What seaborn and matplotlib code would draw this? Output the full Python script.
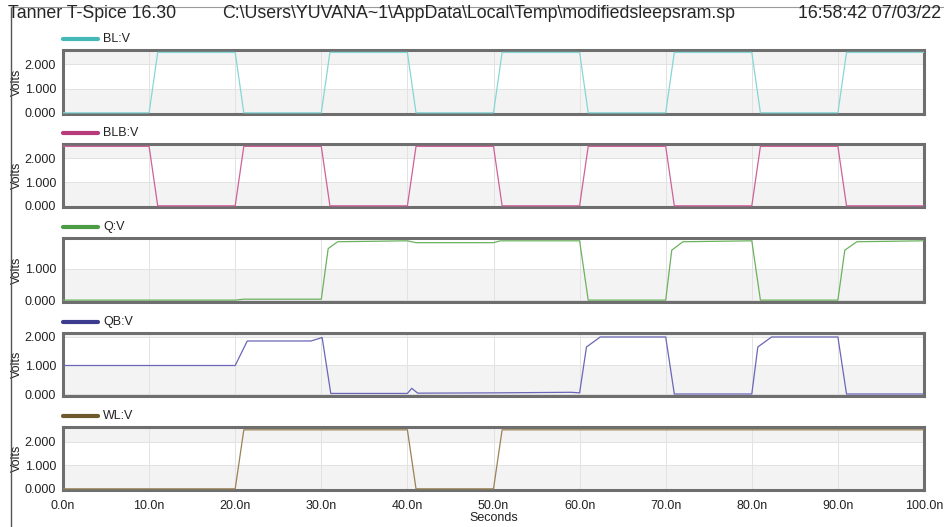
import matplotlib
matplotlib.use('Agg')
import matplotlib.pyplot as plt
from matplotlib.lines import Line2D
from matplotlib.ticker import MultipleLocator, FuncFormatter
import seaborn as sns

t_bl = [0, 10, 11, 20, 21, 30, 31, 40, 41, 50, 51, 60, 61, 70, 71, 80, 81, 90, 91, 100]
v_bl = [0, 0, 2.5, 2.5, 0, 0, 2.5, 2.5, 0, 0, 2.5, 2.5, 0, 0, 2.5, 2.5, 0, 0, 2.5, 2.5]

t_blb = [0, 10, 11, 20, 21, 30, 31, 40, 41, 50, 51, 60, 61, 70, 71, 80, 81, 90, 91, 100]
v_blb = [2.5, 2.5, 0, 0, 2.5, 2.5, 0, 0, 2.5, 2.5, 0, 0, 2.5, 2.5, 0, 0, 2.5, 2.5, 0, 0]

t_q = [0, 20, 21, 30, 30.8, 31.9, 40, 41, 50, 50.8, 60, 61, 70, 70.7, 72, 80, 81, 90, 90.8, 92.2, 100]
v_q = [0, 0, 0.03, 0.03, 1.65, 1.87, 1.9, 1.84, 1.84, 1.9, 1.9, 0, 0, 1.6, 1.87, 1.9, 0, 0, 1.6, 1.87, 1.9]

t_qb = [0, 20, 21.4, 28.8, 30.1, 31.1, 40, 40.5, 41.2, 50, 59, 60, 60.8, 62.4, 70, 71, 80, 80.7, 82.3, 90, 91, 100]
v_qb = [1.0, 1.0, 1.86, 1.86, 1.98, 0.02, 0.02, 0.2, 0.03, 0.04, 0.06, 0.04, 1.65, 2.0, 2.0, 0.0, 0.0, 1.65, 2.0, 2.0, 0.0, 0.0]

t_wl = [0, 20, 21, 40, 41, 50, 51, 100]
v_wl = [0, 0, 2.5, 2.5, 0, 0, 2.5, 2.5]

names = ['BL:V', 'BLB:V', 'Q:V', 'QB:V', 'WL:V']
series = [(t_bl, v_bl), (t_blb, v_blb), (t_q, v_q), (t_qb, v_qb), (t_wl, v_wl)]
trace_colors = ['#86d6d6', '#d0609a', '#6cb25e', '#6a66b8', '#9a8254']
legend_colors = ['#45b9b7', '#b83a7c', '#4a9d45', '#3d3b8e', '#6f5a2c']
ylims = [(-0.05, 2.6), (-0.05, 2.6), (-0.06, 1.99), (-0.07, 2.14), (-0.05, 2.62)]

# positions des panneaux en pixels (haut, bas)
panels_px = [(50, 114), (144, 207), (238, 302), (333, 396), (427, 490)]

sns.set_style('white')
plt.rcParams['font.family'] = ['Liberation Sans', 'DejaVu Sans']

W, H = 945, 527
fig = plt.figure(figsize=(W / 100, H / 100), dpi=100)
x0, x1 = 63, 924
fs = 9

fmt_v = FuncFormatter(lambda v, p: f'{v:.3f}')
fmt_t = FuncFormatter(lambda v, p: f'{v:.1f}n')

for i, ((t, v), name) in enumerate(zip(series, names)):
    top, bot = panels_px[i]
    ax = fig.add_axes([x0 / W, 1 - bot / H, (x1 - x0) / W, (bot - top) / H])
    ax.axhspan(0, 1, color='#f3f3f3', zorder=0, lw=0)
    ax.axhspan(2, 3, color='#f3f3f3', zorder=0, lw=0)
    sns.lineplot(x=t, y=v, ax=ax, color=trace_colors[i], lw=0.9, zorder=3)
    ax.set_xlim(0, 100)
    ax.set_ylim(*ylims[i])
    ax.yaxis.set_major_locator(MultipleLocator(1))
    ax.yaxis.set_minor_locator(MultipleLocator(0.5))
    ax.yaxis.set_major_formatter(fmt_v)
    ax.xaxis.set_major_locator(MultipleLocator(10))
    ax.grid(True, which='major', color='#e2e2e2', lw=0.7, zorder=1)
    for s in ax.spines.values():
        s.set_color('#6e6e6e')
        s.set_linewidth(2.2)
    ax.tick_params(axis='y', which='major', length=3, width=0.7, color='#9a9a9a',
                   labelsize=fs, pad=2, labelcolor='#222222')
    ax.tick_params(axis='y', which='minor', length=2, width=0.6, color='#b0b0b0')
    ax.set_ylabel('Volts', fontsize=fs, color='#222222')
    ax.yaxis.set_label_coords(-0.046, 0.5)
    if i == len(series) - 1:
        ax.xaxis.set_minor_locator(MultipleLocator(2))
        ax.xaxis.set_major_formatter(fmt_t)
        ax.tick_params(axis='x', which='both', direction='in', length=4, width=0.7,
                       color='#9a9a9a', labelsize=fs, pad=7, labelcolor='#222222')
        ax.set_xlabel('Seconds', fontsize=fs, labelpad=0, color='#222222')
    else:
        ax.tick_params(axis='x', which='both', bottom=False, labelbottom=False)
        ax.set_xlabel('')
    # légende façon T-Spice
    ly = 1 - (top - 11) / H
    fig.add_artist(Line2D([x0 / W, 98 / W], [ly, ly], color=legend_colors[i], lw=3))
    fig.text(103 / W, ly, name, fontsize=fs, va='center', ha='left', color='#222222')

# en-tête
hs = 12.8
fig.text(8 / W, 1 - 13 / H, 'Tanner T-Spice 16.30', fontsize=hs, va='center', ha='left')
fig.text(222 / W, 1 - 13 / H, r'C:\Users\YUVANA~1\AppData\Local\Temp\modifiedsleepsram.sp',
         fontsize=hs, va='center', ha='left')
fig.text(941 / W, 1 - 13 / H, '16:58:42 07/03/22', fontsize=hs, va='center', ha='right')

# cadre de la fenêtre
fig.add_artist(Line2D([10.5 / W, 10.5 / W], [0, 1 - 7 / H], color='#555555', lw=1))
fig.add_artist(Line2D([10.5 / W, 944 / W], [1 - 7 / H, 1 - 7 / H], color='#9a9a9a', lw=0.8))

plt.savefig('out.png', dpi=100)
